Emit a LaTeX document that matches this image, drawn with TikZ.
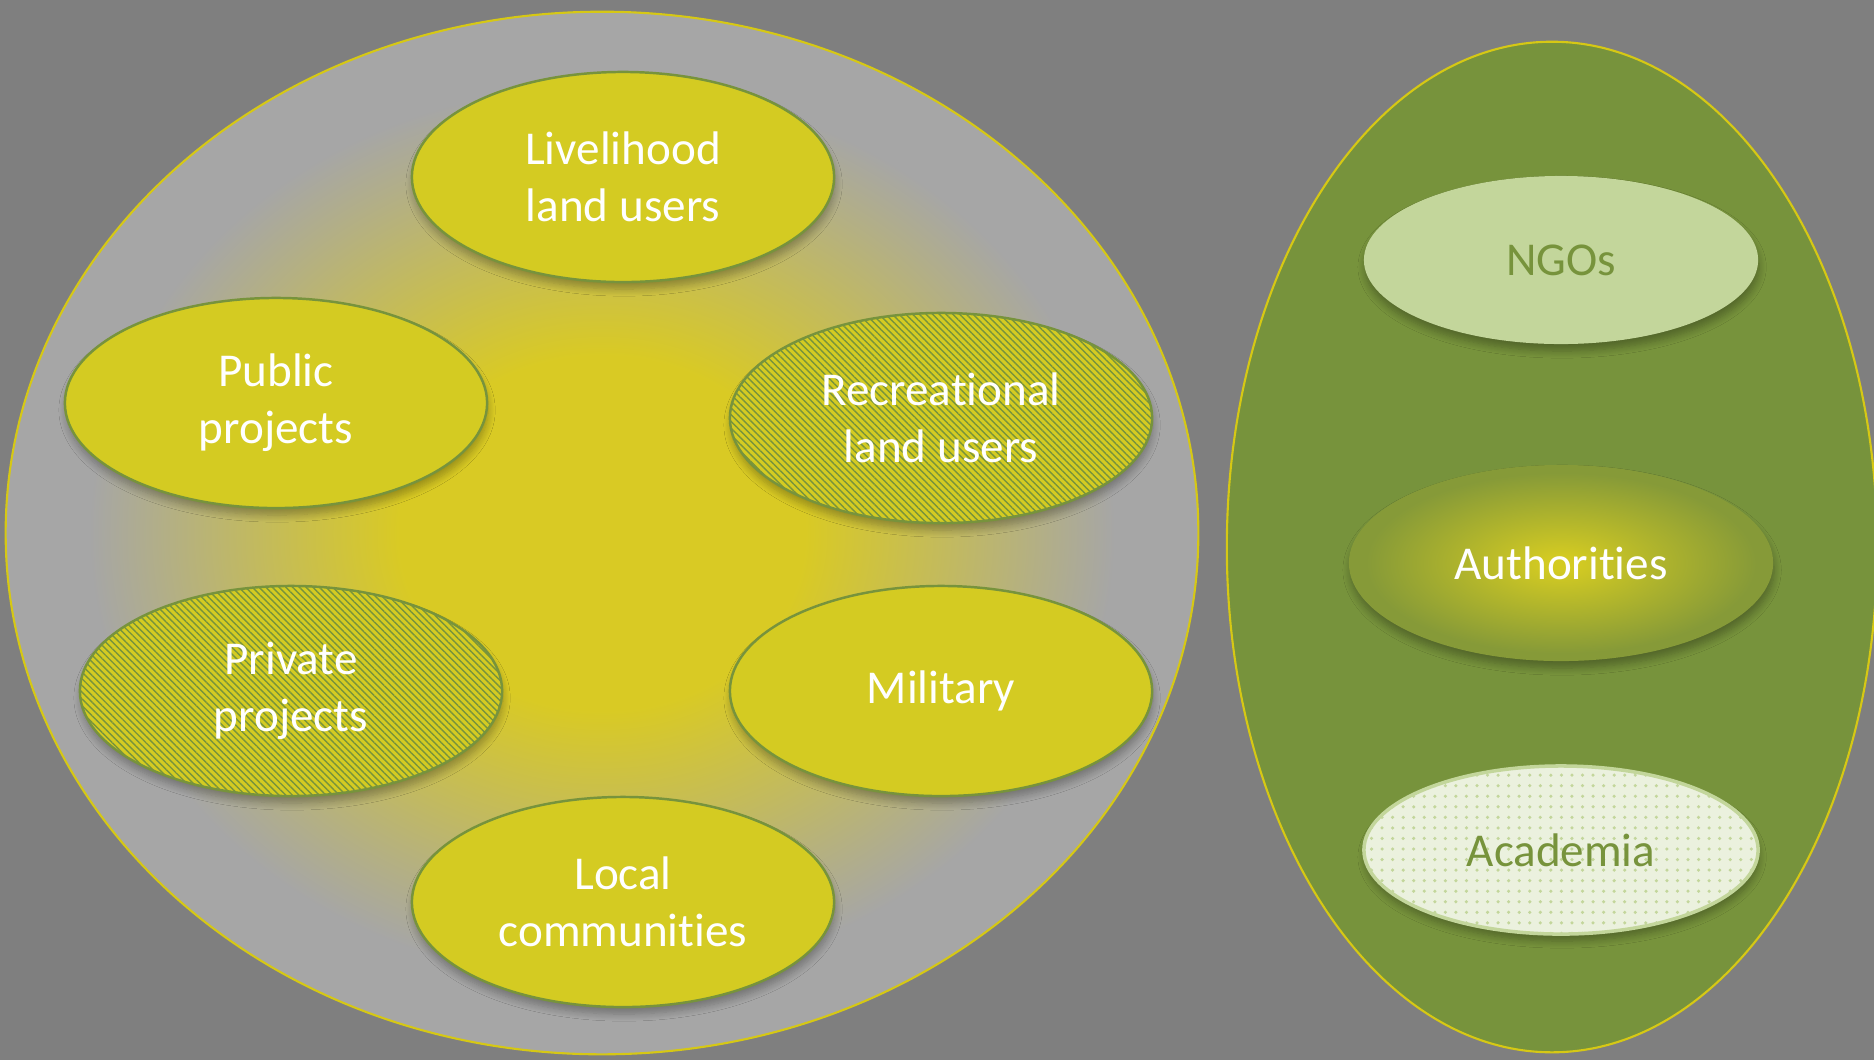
\documentclass[tikz,border=0pt]{standalone}
\usepackage{fontspec}
\setmainfont{Carlito}[Ligatures={NoCommon,NoContextual}]
\usepackage{tikz}
\usetikzlibrary{shapes.geometric}
\usetikzlibrary{shadows.blur}
\usetikzlibrary{patterns}
\usetikzlibrary{patterns.meta}
\definecolor{bggray}{RGB}{127,127,127}
\definecolor{ringgray}{RGB}{166,166,166}
\definecolor{glowcore}{RGB}{217,202,36}
\definecolor{actorfill}{RGB}{212,203,34}
\definecolor{olivegreen}{RGB}{119,147,60}
\definecolor{rimyellow}{RGB}{214,200,20}
\definecolor{ngofill}{RGB}{195,214,155}
\definecolor{acadfill}{RGB}{235,241,222}
\definecolor{authcore}{RGB}{212,203,34}
\definecolor{authedge}{RGB}{134,154,56}
\colorlet{glowmid}{glowcore!55!ringgray}
\pgfdeclareradialshading{glow}{\pgfpoint{0bp}{0bp}}{color(0bp)=(glowcore); color(8.5bp)=(glowcore); color(14.5bp)=(glowmid); color(21.5bp)=(ringgray); color(50bp)=(ringgray)}
\pgfdeclareradialshading{authglow}{\pgfpoint{0bp}{0bp}}{color(0bp)=(authcore); color(1.5bp)=(authcore); color(23bp)=(authedge); color(50bp)=(authedge)}
\newcommand{\actorfont}{\fontsize{13.4pt}{16.2pt}\selectfont}
\tikzset{
	softshadow/.style={blur shadow={shadow xshift=0.3pt, shadow yshift=-2pt, shadow blur radius=2pt, shadow blur steps=8, shadow opacity=30}},
	actor/.style={ellipse, draw=olivegreen, line width=0.7pt, fill=actorfill, minimum width=4.22cm, minimum height=2.1cm, inner sep=0pt, align=center, text=white, font=\actorfont, softshadow},
	hatched/.style={postaction={pattern={Lines[angle=-45, distance=1.35pt, line width=0.4pt]}, pattern color=olivegreen}},
	partner/.style={ellipse, minimum width=3.94cm, minimum height=1.68cm, inner sep=0pt, align=center, font=\actorfont, softshadow},
}

\begin{document}
\begin{tikzpicture}[x=0.01cm, y=-0.01cm]
	\useasboundingbox (0,0) rectangle (1874,1060);
	\fill[bggray] (0,0) rectangle (1874,1060);
	% land users and the other side
	\node[ellipse, draw=rimyellow, line width=0.6pt, shading=glow, minimum width=11.92cm, minimum height=10.42cm, inner sep=0pt] (users) at (602,533) {};
	\node[ellipse, draw=rimyellow, line width=0.6pt, fill=olivegreen, minimum width=6.5cm, minimum height=10.1cm, inner sep=0pt] (others) at (1552,547) {};
	% actors inside the circle
	\node[actor] (livelihood) at (623,177) {Livelihood\\land users};
	\node[actor] (public) at (276,403) {Public\\projects};
	\node[actor, hatched] (recreational) at (941,418) {Recreational\\land users};
	\node[actor, hatched] (private) at (291,691) {Private\\projects};
	\node[actor] (military) at (941,691) {Military};
	\node[actor] (local) at (623,902) {Local\\communities};
	% actors in the green ellipse
	\node[partner, fill=ngofill, text=olivegreen] (ngos) at (1561,260) {NGOs};
	\node[partner, shading=authglow, text=white, minimum width=4.24cm, minimum height=1.96cm] (authorities) at (1561,563) {Authorities};
	\node[partner, draw=ngofill, line width=1pt, fill=acadfill, text=olivegreen, postaction={pattern=dots, pattern color=ngofill}] (academia) at (1561,850) {Academia};
\end{tikzpicture}
\end{document}
